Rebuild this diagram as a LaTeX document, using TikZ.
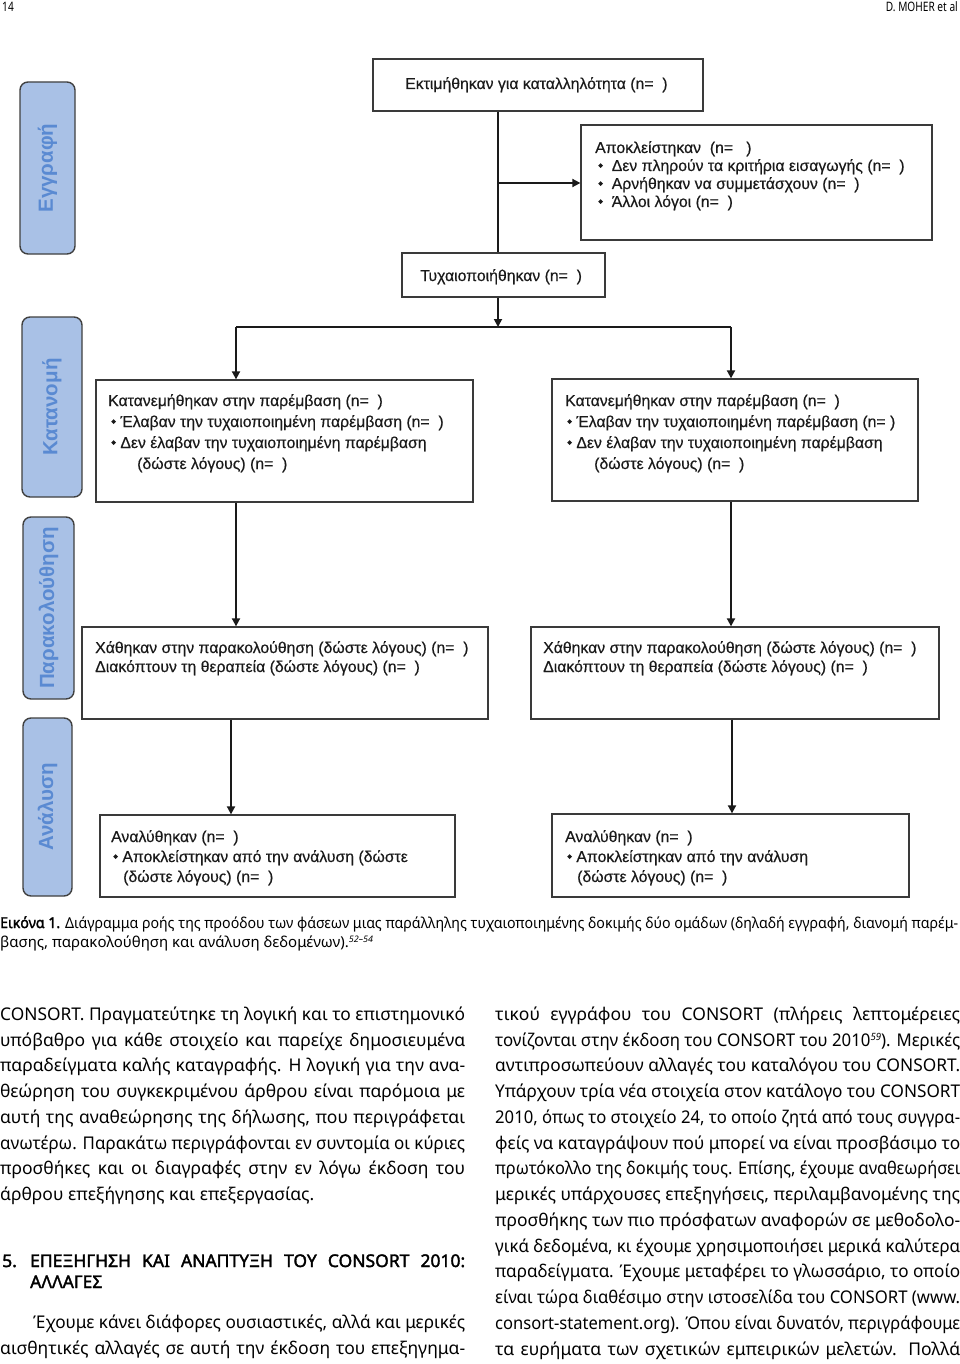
\documentclass[tikz,border=0pt]{standalone}
\usepackage{fontspec}
\setmainfont{Noto Sans}
\newfontfamily\bodybold{Noto Sans}[FakeBold=2]
\newfontfamily\diag{Liberation Sans}[FakeBold=0.4]
\newfontfamily\diagb{Liberation Sans}
\newfontfamily\hdr{Noto Sans}[FakeStretch=0.78]
\usetikzlibrary{arrows.meta}
\definecolor{phasefill}{HTML}{A9C1E6}
\definecolor{phasetext}{HTML}{5A8AD2}
\definecolor{boxline}{HTML}{3A3A3A}
\definecolor{inkc}{HTML}{1A1A1A}
\tikzset{
  box/.style={draw=boxline, line width=1.3pt, inner sep=0pt},
  phase/.style={draw=black!75, line width=1.4pt, fill=phasefill, rounded corners=8pt,
    rotate=90, inner sep=0pt, text=phasetext, font=\diagb\bfseries\fontsize{20.5}{21}\selectfont},
  ln/.style={line width=1.8pt, draw=inkc},
  arr/.style={ln, -{Triangle[length=8pt,width=8pt]}},
  dt/.style={anchor=base west, inner sep=0pt, text=inkc, font=\diag\fontsize{15.8}{18}\selectfont},
  body/.style={anchor=base west, inner sep=0pt, font=\fontsize{17.5}{20}\selectfont},
  bodyhead/.style={anchor=base west, inner sep=0pt, font=\bodybold\fontsize{17.5}{20}\selectfont},
  captext/.style={anchor=base west, inner sep=0pt, font=\fontsize{15}{18}\selectfont},
  hd/.style={inner sep=0pt, font=\hdr\fontsize{13}{13}\selectfont},
}
\newsavebox\lnbox
\newlength\lnw
\newlength\lnn
\newcommand\fitline[2]{\setlength\lnw{#1}\sbox\lnbox{#2}\setlength\lnn{\wd\lnbox}%
  \ifdim\lnn>\lnw\relax\pgfmathsetmacro\lnr{\lnw/\lnn}\scalebox{\lnr}[1]{\usebox\lnbox}%
  \else\makebox[\lnw][s]{#2}\fi}
\newcommand\bul{\raisebox{3pt}{\rotatebox{45}{\rule{3.4pt}{3.4pt}}}}
\newcommand\jl[4]{\node[body] (#1) at (#2,#3) {\fitline{465pt}{#4}};}
\newcommand\jlw[5]{\node[body] (#1) at (#2,#3) {\fitline{#4pt}{#5}};}
\newcommand\pl[4]{\node[body] (#1) at (#2,#3) {#4};}
\begin{document}
\begin{tikzpicture}[x=1pt,y=-1pt]
\useasboundingbox (0,0) rectangle (960,1364);
\fill[white] (0,0) rectangle (960,1364);

% header
\node[hd, anchor=base west] (pg) at (2,12) {14};
\node[hd, anchor=base east] (au) at (958,12) {D. MOHER et al};

% phase labels
\node[phase, minimum width=172pt, minimum height=55pt] (p1) at (47.5,168) {Εγγραφή};
\node[phase, minimum width=180pt, minimum height=60pt] (p2) at (52,407) {Κατανομή};
\node[phase, minimum width=182pt, minimum height=51pt] (p3) at (48.5,608) {Παρακολούθηση};
\node[phase, minimum width=178pt, minimum height=49pt] (p4) at (47.5,807) {Ανάλυση};

% boxes
\node[box, minimum width=330pt, minimum height=52pt] (top) at (538,85) {};
\node[box, minimum width=351pt, minimum height=115pt] (excl) at (756.5,182.5) {};
\node[box, minimum width=203pt, minimum height=44pt] (rand) at (503.5,275) {};
\node[box, minimum width=377pt, minimum height=122pt] (alL) at (284.5,441) {};
\node[box, minimum width=366pt, minimum height=122pt] (alR) at (735,440) {};
\node[box, minimum width=406pt, minimum height=92pt] (fuL) at (285,673) {};
\node[box, minimum width=408pt, minimum height=92pt] (fuR) at (735,673) {};
\node[box, minimum width=355pt, minimum height=82pt] (anL) at (277.5,856) {};
\node[box, minimum width=357pt, minimum height=83pt] (anR) at (730.5,855.5) {};

% box texts
\node[dt] (t1) at (405,89) {Εκτιμήθηκαν για καταλληλότητα (n=\ \ )};
\node[dt] (e1) at (595,153) {Αποκλείστηκαν\ \ (n=\ \ \ )};
\node[dt] (e2) at (598,171) {\bul\ \ Δεν πληρούν τα κριτήρια εισαγωγής (n=\ \ )};
\node[dt] (e3) at (598,189) {\bul\ \ Αρνήθηκαν να συμμετάσχουν (n=\ \ )};
\node[dt] (e4) at (598,207) {\bul\ \ Άλλοι λόγοι (n=\ \ )};
\node[dt] (r1) at (420,281) {Τυχαιοποιήθηκαν (n=\ \ )};

\node[dt] (a1) at (108,406) {Κατανεμήθηκαν στην παρέμβαση (n=\ \ )};
\node[dt] (a2) at (111,427) {\bul\ Έλαβαν την τυχαιοποιημένη παρέμβαση (n=\ \ )};
\node[dt] (a3) at (111,448) {\bul\ Δεν έλαβαν την τυχαιοποιημένη παρέμβαση};
\node[dt] (a4) at (137,469) {(δώστε λόγους) (n=\ \ )};
\node[dt] (b1) at (565,406) {Κατανεμήθηκαν στην παρέμβαση (n=\ \ )};
\node[dt] (b2) at (567,427) {\bul\ Έλαβαν την τυχαιοποιημένη παρέμβαση (n= )};
\node[dt] (b3) at (567,448) {\bul\ Δεν έλαβαν την τυχαιοποιημένη παρέμβαση};
\node[dt] (b4) at (594,469) {(δώστε λόγους) (n=\ \ )};

\node[dt] (f1) at (95,653) {Χάθηκαν στην παρακολούθηση (δώστε λόγους) (n=\ \ )};
\node[dt] (f2) at (95,672) {Διακόπτουν τη θεραπεία (δώστε λόγους) (n=\ \ )};
\node[dt] (g1) at (543,653) {Χάθηκαν στην παρακολούθηση (δώστε λόγους) (n=\ \ )};
\node[dt] (g2) at (543,672) {Διακόπτουν τη θεραπεία (δώστε λόγους) (n=\ \ )};

\node[dt] (n1) at (111,842) {Αναλύθηκαν (n=\ \ )};
\node[dt] (n2) at (113,862) {\bul\ Αποκλείστηκαν από την ανάλυση (δώστε};
\node[dt] (n3) at (123,882) {(δώστε λόγους) (n=\ \ )};
\node[dt] (m1) at (565,842) {Αναλύθηκαν (n=\ \ )};
\node[dt] (m2) at (567,862) {\bul\ Αποκλείστηκαν από την ανάλυση};
\node[dt] (m3) at (577,882) {(δώστε λόγους) (n=\ \ )};

% connectors
\coordinate (c1) at (498,183);
\coordinate (sp) at (498,327);
\coordinate (sl) at (236,327);
\coordinate (sr) at (731,327);
\coordinate (xl2) at (231,0);
\coordinate (xr2) at (732,0);
\draw[ln] (top.south -| c1) -- (rand.north -| c1);
\draw[arr] (c1) -- (excl.west |- c1);
\draw[arr] (rand.south -| sp) -- (sp);
\draw[ln] (sl) -- (sr);
\draw[arr] (sl) -- (alL.north -| sl);
\draw[arr] (sr) -- (alR.north -| sr);
\draw[arr] (alL.south -| sl) -- (fuL.north -| sl);
\draw[arr] (alR.south -| sr) -- (fuR.north -| sr);
\draw[arr] (fuL.south -| xl2) -- (anL.north -| xl2);
\draw[arr] (fuR.south -| xr2) -- (anR.north -| xr2);

% caption
\node[captext] (cap1) at (0,928) {\fitline{958pt}{{\bodybold Εικόνα 1.} Διάγραμμα ροής της προόδου των φάσεων μιας παράλληλης τυχαιοποιημένης δοκιμής δύο ομάδων (δηλαδή εγγραφή, διανομή παρέμ-}};
\node[captext] (cap2) at (0,947) {βασης, παρακολούθηση και ανάλυση δεδομένων).\raisebox{5pt}{\fontsize{9}{9}\selectfont\itshape 52–54}};

% left column
\jl{L1}{0}{1020}{CONSORT. Πραγματεύτηκε τη λογική και το επιστημονικό}
\jl{L2}{0}{1046}{υπόβαθρο για κάθε στοιχείο και παρείχε δημοσιευμένα}
\jl{L3}{0}{1071}{παραδείγματα καλής καταγραφής. Η λογική για την ανα-}
\jl{L4}{0}{1097}{θεώρηση του συγκεκριμένου άρθρου είναι παρόμοια με}
\jl{L5}{0}{1123}{αυτή της αναθεώρησης της δήλωσης, που περιγράφεται}
\jl{L6}{0}{1149}{ανωτέρω. Παρακάτω περιγράφονται εν συντομία οι κύριες}
\jl{L7}{0}{1174}{προσθήκες και οι διαγραφές στην εν λόγω έκδοση του}
\pl{L8}{0}{1200}{άρθρου επεξήγησης και επεξεργασίας.}
\node[bodyhead] (H0) at (2,1267) {5.};
\node[bodyhead] (H1) at (30,1267) {\fitline{435pt}{ΕΠΕΞΗΓΗΣΗ ΚΑΙ ΑΝΑΠΤΥΞΗ ΤΟΥ CONSORT 2010:}};
\node[bodyhead] (H2) at (30,1288) {ΑΛΛΑΓΕΣ};
\jlw{L9}{33}{1328}{432}{Έχουμε κάνει διάφορες ουσιαστικές, αλλά και μερικές}
\jl{L10}{0}{1354}{αισθητικές αλλαγές σε αυτή την έκδοση του επεξηγημα-}

% right column
\jl{R1}{495}{1020}{τικού εγγράφου του CONSORT (πλήρεις λεπτομέρειες}
\jl{R2}{495}{1046}{τονίζονται στην έκδοση του CONSORT του 2010\raisebox{6pt}{\fontsize{10}{10}\selectfont\itshape 59}). Μερικές}
\jl{R3}{495}{1071}{αντιπροσωπεύουν αλλαγές του καταλόγου του CONSORT.}
\jl{R4}{495}{1097}{Υπάρχουν τρία νέα στοιχεία στον κατάλογο του CONSORT}
\jl{R5}{495}{1123}{2010, όπως το στοιχείο 24, το οποίο ζητά από τους συγγρα-}
\jl{R6}{495}{1149}{φείς να καταγράψουν πού μπορεί να είναι προσβάσιμο το}
\jl{R7}{495}{1174}{πρωτόκολλο της δοκιμής τους. Επίσης, έχουμε αναθεωρήσει}
\jl{R8}{495}{1200}{μερικές υπάρχουσες επεξηγήσεις, περιλαμβανομένης της}
\jl{R9}{495}{1226}{προσθήκης των πιο πρόσφατων αναφορών σε μεθοδολο-}
\jl{R10}{495}{1252}{γικά δεδομένα, κι έχουμε χρησιμοποιήσει μερικά καλύτερα}
\jl{R11}{495}{1277}{παραδείγματα. Έχουμε μεταφέρει το γλωσσάριο, το οποίο}
\jl{R12}{495}{1303}{είναι τώρα διαθέσιμο στην ιστοσελίδα του CONSORT (www.}
\jl{R13}{495}{1329}{consort-statement.org). Όπου είναι δυνατόν, περιγράφουμε}
\jl{R14}{495}{1355}{τα ευρήματα των σχετικών εμπειρικών μελετών. Πολλά}
\end{tikzpicture}
\end{document}
